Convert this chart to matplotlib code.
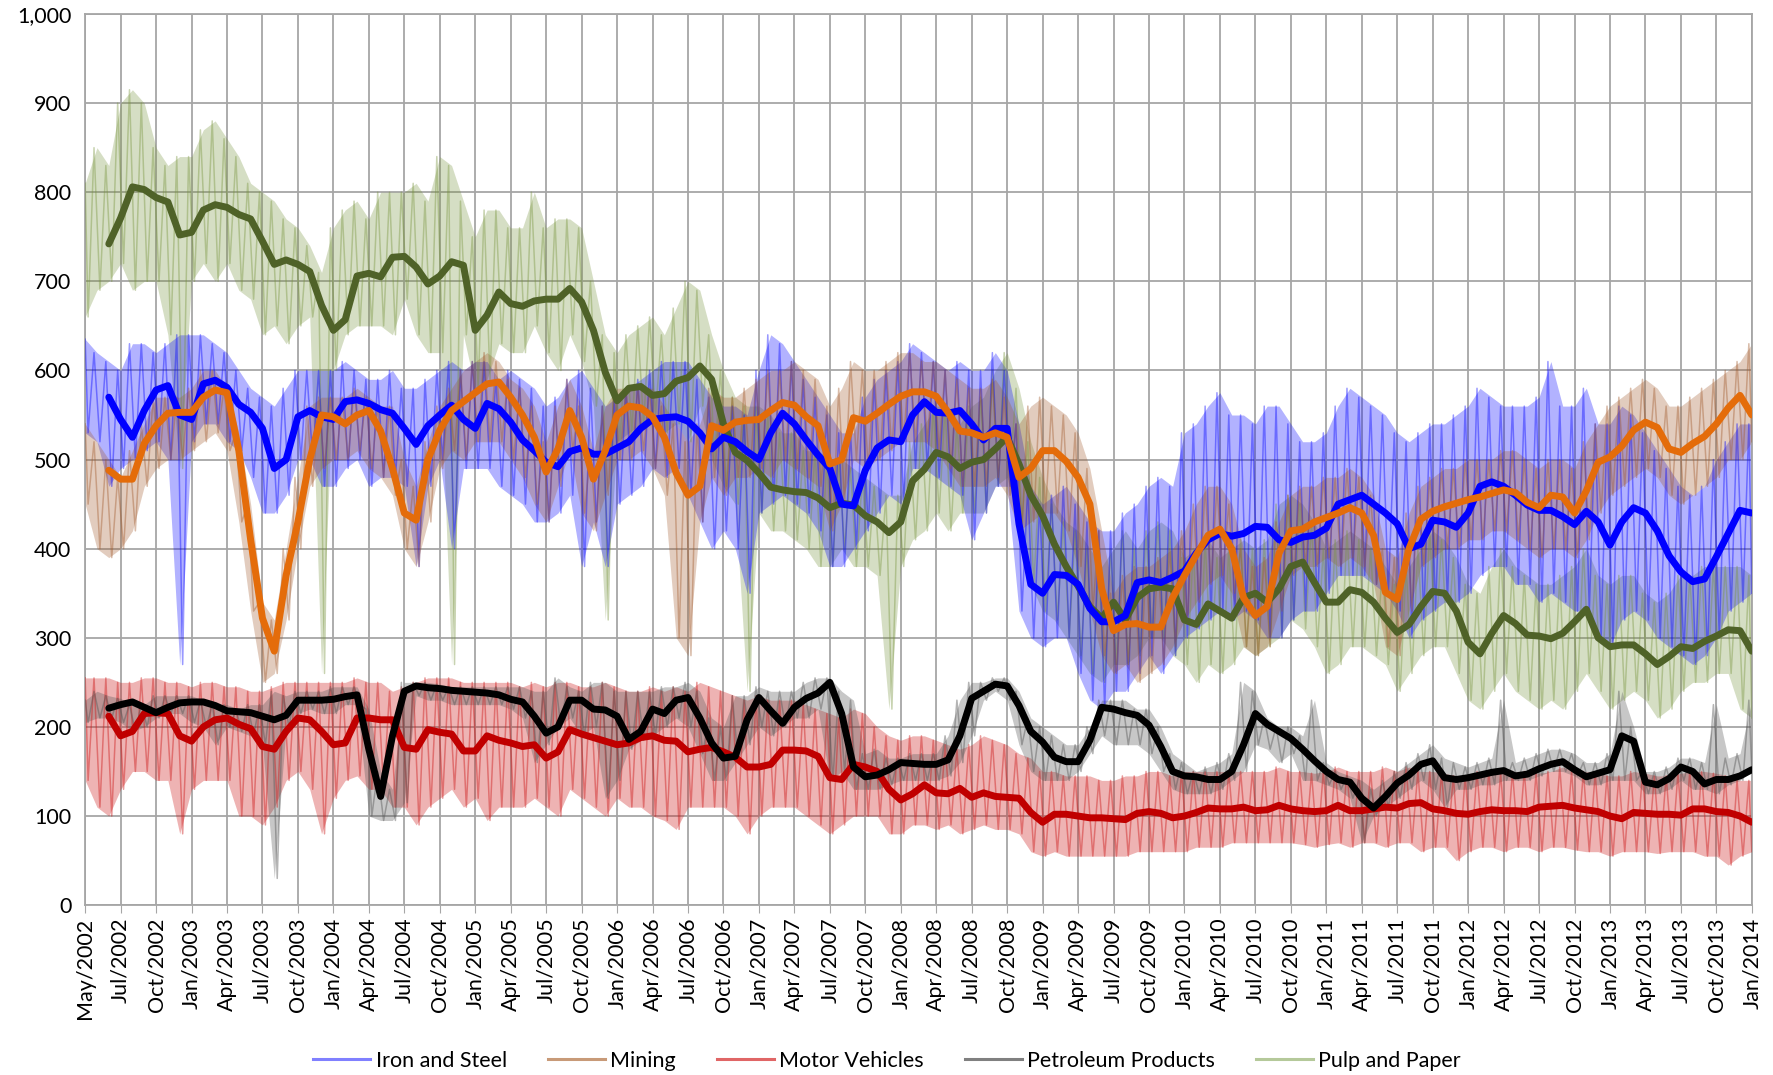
import numpy as np
import matplotlib
matplotlib.use("Agg")
import matplotlib.pyplot as plt
from matplotlib.lines import Line2D

nan = np.nan
# ---------------- data (monthly, month 0 = May/2002, month 141 = Jan/2014) ----------------
tick_labels = ["May/2002", "Jul/2002", "Oct/2002",
               "Jan/2003", "Apr/2003", "Jul/2003", "Oct/2003",
               "Jan/2004", "Apr/2004", "Jul/2004", "Oct/2004",
               "Jan/2005", "Apr/2005", "Jul/2005", "Oct/2005",
               "Jan/2006", "Apr/2006", "Jul/2006", "Oct/2006",
               "Jan/2007", "Apr/2007", "Jul/2007", "Oct/2007",
               "Jan/2008", "Apr/2008", "Jul/2008", "Oct/2008",
               "Jan/2009", "Apr/2009", "Jul/2009", "Oct/2009",
               "Jan/2010", "Apr/2010", "Jul/2010", "Oct/2010",
               "Jan/2011", "Apr/2011", "Jul/2011", "Oct/2011",
               "Jan/2012", "Apr/2012", "Jul/2012", "Oct/2012",
               "Jan/2013", "Apr/2013", "Jul/2013", "Oct/2013",
               "Jan/2014"]
series_names = ["Iron and Steel", "Mining", "Motor Vehicles", "Petroleum Products", "Pulp and Paper"]

# moving averages (thick lines)
iron_ma = [nan, nan, 570, 545, 525, 555, 578, 583, 550, 545, 585, 589, 581, 562, 553, 535, 490, 500, 548, 555, 548, 545, 565, 567, 563, 556,
           552, 535, 517, 538, 550, 561, 545, 535, 563, 557, 542, 522, 510, 497, 492, 509, 513, 506, 506, 513, 520, 535, 545, 547, 548,
           543, 530, 512, 525, 520, 509, 500, 530, 552, 540, 522, 505, 490, 450, 448, 488, 513, 522, 520, 550, 565, 553, 552, 555, 540,
           522, 535, 535, 428, 360, 350, 371, 370, 360, 333, 318, 318, 325, 362, 365, 362, 368, 375, 395, 410, 417, 414, 417, 425, 424,
           410, 407, 413, 415, 423, 450, 455, 460, 450, 440, 428, 400, 405, 432, 430, 424, 440, 470, 475, 470,
           460, 449, 443, 443, 436, 427, 442, 430, 404, 430, 446, 440, 420, 392, 374, 363, 366, 391, 417, 443, 440]
mining_ma = [nan, nan, 488, 478, 478, 518, 538, 552, 553, 553, 570, 578, 575, 510, 410, 322, 285, 370, 430, 500, 550, 548, 540, 550, 555, 532,
             490, 440, 432, 500, 533, 555, 565, 575, 585, 587, 570, 550, 525, 486, 512, 555, 525, 478, 510, 550, 560, 558, 548, 525, 485,
             460, 470, 538, 533, 542, 544, 545, 555, 564, 561, 548, 538, 495, 500, 547, 543, 552, 562, 571, 576, 576, 571, 553, 532, 530,
             525, 530, 525, 480, 490, 510, 510, 498, 480, 450, 355, 308, 315, 316, 312, 312, 345, 370, 393, 415, 422, 400, 345, 325, 335,
             395, 420, 422, 430, 435, 440, 446, 440, 415, 351, 343, 400, 433, 442, 447, 451, 455, 458, 462, 466,
             463, 452, 446, 460, 458, 440, 465, 497, 503, 515, 533, 542, 536, 512, 508, 518, 526, 540, 558, 572, 550]
motor_ma = [nan, nan, 212, 190, 195, 215, 216, 215, 190, 184, 200, 208, 210, 203, 198, 178, 175, 195, 210, 208, 195, 180, 182, 210, 210, 208,
            208, 177, 175, 197, 194, 192, 173, 173, 190, 185, 182, 178, 180, 165, 172, 197, 192, 188, 184, 180, 182, 188, 190, 185, 184,
            172, 175, 177, 172, 166, 155, 155, 158, 174, 174, 173, 167, 143, 141, 158, 155, 150, 130, 118, 125, 135, 126, 125, 131, 121,
            126, 122, 121, 120, 104, 93, 102, 102, 100, 98, 98, 97, 96, 103, 105, 103, 98, 100, 104, 109, 108, 108, 110, 106, 107,
            112, 108, 106, 105, 106, 112, 106, 106, 108, 110, 109, 114, 115, 108, 106, 103, 102, 105, 107, 106,
            106, 105, 110, 111, 112, 109, 107, 105, 100, 97, 104, 103, 102, 102, 101, 108, 108, 105, 104, 100, 93]
petro_ma = [nan, nan, 221, 225, 228, 222, 216, 222, 227, 228, 228, 224, 218, 217, 216, 212, 208, 213, 230, 230, 230, 231, 234, 236, 175, 122,
            190, 240, 246, 244, 243, 241, 240, 239, 238, 236, 231, 228, 212, 193, 200, 230, 230, 220, 219, 212, 186, 195, 220, 215, 230,
            233, 210, 182, 165, 167, 208, 233, 218, 204, 222, 232, 238, 250, 215, 155, 144, 146, 152, 160, 159, 158, 158, 163, 190, 232,
            240, 248, 246, 224, 195, 183, 166, 161, 161, 185, 222, 220, 216, 213, 202, 178, 150, 145, 144, 141, 141, 150, 180, 215, 203,
            195, 187, 175, 162, 150, 141, 138, 120, 109, 122, 137, 146, 158, 162, 143, 141, 143, 146, 149, 151,
            145, 147, 153, 158, 161, 152, 144, 148, 152, 190, 184, 138, 135, 142, 155, 150, 136, 141, 141, 145, 152]
pulp_ma = [nan, nan, 742, 771, 806, 803, 794, 789, 752, 755, 780, 786, 783, 775, 770, 745, 719, 724, 719, 711, 673, 645, 657, 706, 709, 705,
           727, 728, 716, 697, 706, 722, 718, 645, 662, 688, 675, 672, 678, 680, 680, 692, 677, 645, 598, 566, 580, 582, 572, 574, 588,
           592, 605, 590, 540, 508, 499, 485, 469, 466, 464, 463, 457, 446, 451, 449, 437, 430, 418, 430, 476, 489, 508, 503, 490, 497,
           500, 512, 525, 495, 460, 437, 405, 380, 358, 335, 322, 340, 320, 345, 355, 357, 355, 320, 315, 338, 330, 322, 345, 350, 340,
           355, 380, 385, 362, 340, 340, 354, 351, 340, 322, 306, 315, 335, 352, 350, 330, 295, 282, 305, 325,
           316, 303, 302, 299, 305, 318, 332, 300, 290, 292, 292, 282, 270, 279, 290, 288, 296, 302, 309, 308, 285]

# raw daily series, read as monthly highs and lows
iron_hi = [635, 620, 610, 600, 630, 630, 620, 630, 640, 640, 640, 630, 620, 600, 580, 570, 560, 580, 600, 600, 600, 600, 610, 600, 590, 590,
           600, 580, 580, 590, 600, 610, 600, 610, 610, 590, 600, 590, 580, 560, 570, 590, 600, 580, 560, 570, 580, 590, 600, 610, 610,
           610, 590, 570, 560, 560, 550, 600, 640, 630, 610, 590, 570, 550, 530, 530, 570, 590, 600, 610, 630, 620, 610, 600, 610, 600,
           600, 620, 600, 540, 470, 450, 460, 470, 450, 430, 420, 420, 440, 450, 470, 480, 470, 530, 540, 560, 575, 550, 550, 540, 560,
           560, 540, 520, 520, 530, 560, 580, 570, 560, 550, 530, 520, 530, 540, 540, 550, 560, 580, 570, 560,
           560, 560, 570, 610, 560, 560, 580, 540, 540, 560, 550, 530, 510, 490, 470, 460, 470, 500, 520, 540, 540]
iron_lo = [530, 520, 470, 490, 500, 510, 520, 500, 270, 520, 540, 540, 520, 510, 480, 440, 440, 460, 500, 500, 470, 470, 490, 500, 470, 480,
           480, 470, 380, 470, 500, 400, 490, 490, 490, 470, 460, 450, 430, 430, 440, 460, 380, 430, 380, 450, 460, 470, 490, 480, 490,
           460, 430, 400, 420, 400, 350, 440, 450, 460, 450, 440, 420, 380, 380, 400, 420, 440, 460, 450, 490, 490, 480, 470, 460, 410,
           440, 470, 470, 330, 300, 290, 300, 300, 260, 230, 220, 240, 240, 260, 280, 260, 280, 300, 310, 320, 330, 320, 330, 320, 300,
           300, 320, 330, 330, 350, 370, 370, 370, 360, 350, 330, 300, 320, 330, 340, 340, 350, 370, 380, 380,
           360, 360, 340, 350, 340, 330, 330, 300, 290, 320, 330, 320, 300, 290, 280, 270, 280, 300, 330, 340, 350]
mining_hi = [540, 520, 500, 480, 510, 540, 570, 570, 570, 580, 600, 600, 580, 530, 450, 340, 320, 400, 480, 560, 570, 570, 570, 580, 570, 560,
             560, 500, 470, 520, 560, 580, 600, 610, 620, 610, 590, 580, 560, 520, 560, 590, 560, 510, 560, 580, 580, 580, 580, 560, 540,
             520, 540, 580, 570, 570, 580, 590, 600, 600, 610, 600, 590, 560, 580, 610, 600, 600, 610, 620, 620, 610, 610, 600, 590, 580,
             580, 590, 570, 540, 560, 570, 560, 550, 530, 490, 420, 350, 370, 380, 380, 390, 400, 420, 450, 470, 470, 450, 400, 380, 390,
             430, 460, 470, 470, 480, 480, 490, 480, 460, 400, 390, 440, 470, 480, 490, 490, 500, 500, 500, 510,
             510, 500, 490, 500, 500, 490, 520, 540, 560, 570, 580, 590, 580, 560, 560, 570, 580, 590, 600, 610, 630]
mining_lo = [450, 400, 390, 400, 420, 470, 490, 500, 500, 510, 520, 530, 510, 430, 330, 250, 260, 320, 400, 470, 490, 500, 500, 510, 490, 480,
             460, 400, 380, 430, 490, 510, 500, 520, 520, 520, 500, 480, 450, 430, 470, 510, 440, 420, 460, 500, 500, 510, 490, 460, 300,
             280, 430, 480, 460, 480, 480, 490, 480, 500, 490, 480, 470, 420, 450, 500, 490, 500, 510, 520, 520, 520, 510, 490, 470, 470,
             470, 480, 460, 420, 430, 440, 440, 420, 380, 330, 280, 260, 270, 250, 260, 270, 290, 320, 340, 360, 370, 350, 290, 280, 290,
             330, 370, 380, 380, 390, 380, 390, 380, 360, 290, 280, 330, 380, 390, 400, 400, 410, 410, 420, 420,
             410, 400, 390, 400, 400, 390, 410, 440, 460, 470, 480, 490, 480, 460, 450, 460, 470, 480, 500, 500, 520]
motor_hi = [255, 255, 255, 250, 250, 255, 255, 250, 250, 245, 250, 250, 245, 245, 240, 240, 245, 250, 250, 250, 250, 250, 250, 255, 250, 250,
            240, 245, 250, 255, 255, 255, 250, 250, 250, 250, 250, 245, 250, 245, 250, 250, 245, 245, 250, 245, 240, 240, 245, 240, 245,
            240, 250, 245, 240, 235, 230, 235, 230, 230, 230, 225, 220, 215, 210, 220, 215, 200, 190, 185, 190, 190, 185, 180, 175, 180,
            190, 185, 180, 170, 165, 150, 150, 145, 145, 145, 140, 140, 145, 145, 150, 150, 145, 150, 150, 150, 150, 150, 150, 150, 150,
            155, 150, 150, 148, 150, 155, 150, 150, 150, 155, 150, 155, 150, 150, 148, 145, 145, 150, 150, 148,
            150, 150, 148, 150, 155, 150, 150, 148, 145, 145, 150, 148, 145, 145, 148, 150, 150, 148, 145, 140, 140]
motor_lo = [140, 110, 100, 130, 150, 150, 140, 140, 80, 130, 140, 140, 140, 100, 100, 90, 110, 140, 150, 130, 80, 120, 140, 145, 130, 130,
            110, 110, 90, 110, 120, 130, 110, 120, 95, 110, 110, 110, 120, 110, 100, 130, 120, 110, 100, 120, 110, 110, 100, 95, 85,
            110, 110, 110, 110, 100, 80, 100, 110, 110, 110, 100, 90, 80, 90, 100, 100, 100, 80, 80, 90, 90, 85, 90, 80, 85,
            90, 85, 85, 80, 60, 55, 60, 55, 55, 55, 55, 55, 55, 60, 60, 60, 60, 60, 65, 65, 65, 70, 70, 70, 70,
            70, 70, 68, 65, 68, 70, 65, 70, 70, 65, 70, 70, 60, 65, 65, 50, 60, 65, 65, 60,
            65, 65, 60, 65, 65, 62, 60, 60, 55, 60, 60, 60, 58, 60, 60, 60, 55, 55, 45, 55, 60]
petro_hi = [230, 240, 235, 232, 225, 225, 235, 235, 235, 235, 230, 225, 225, 220, 225, 225, 240, 235, 240, 240, 240, 245, 245, 245, 220, 150,
            130, 250, 250, 250, 248, 245, 245, 245, 245, 245, 245, 245, 240, 240, 255, 245, 240, 250, 250, 240, 240, 240, 240, 245, 245,
            250, 240, 210, 200, 235, 235, 245, 240, 240, 240, 250, 255, 255, 240, 230, 170, 175, 165, 165, 170, 170, 170, 190, 230, 250,
            250, 255, 255, 240, 210, 200, 190, 180, 180, 200, 230, 230, 230, 220, 220, 200, 170, 160, 150, 155, 160, 170, 250, 240, 210,
            200, 200, 190, 230, 160, 150, 145, 140, 130, 140, 150, 160, 170, 180, 165, 160, 155, 160, 165, 230,
            160, 165, 170, 175, 175, 170, 160, 160, 170, 240, 200, 150, 150, 155, 165, 165, 160, 225, 165, 170, 230]
petro_lo = [205, 210, 210, 205, 195, 200, 210, 215, 215, 205, 200, 180, 200, 195, 190, 180, 30, 200, 215, 220, 215, 215, 225, 225, 100, 95,
            95, 115, 235, 230, 230, 225, 225, 225, 225, 225, 220, 210, 160, 180, 200, 210, 190, 200, 120, 140, 175, 185, 190, 200, 210,
            200, 170, 140, 140, 160, 180, 200, 190, 200, 210, 210, 220, 140, 150, 130, 130, 130, 135, 140, 140, 140, 140, 145, 160, 190,
            230, 240, 230, 180, 150, 140, 140, 140, 150, 170, 190, 180, 180, 180, 170, 150, 130, 125, 125, 125, 130, 140, 150, 180, 175,
            160, 170, 140, 140, 135, 130, 120, 70, 100, 110, 120, 130, 140, 130, 110, 130, 130, 135, 135, 140,
            140, 140, 145, 150, 150, 145, 135, 135, 140, 140, 140, 125, 125, 130, 140, 130, 130, 125, 135, 140, 150]
pulp_hi = [810, 850, 830, 900, 915, 900, 850, 830, 840, 840, 870, 880, 860, 840, 810, 800, 790, 770, 760, 740, 710, 760, 780, 790, 770, 800,
           800, 800, 810, 790, 840, 830, 790, 750, 780, 780, 760, 760, 800, 760, 770, 770, 760, 700, 640, 620, 640, 650, 660, 640, 670,
           700, 690, 640, 600, 570, 560, 560, 550, 530, 530, 510, 510, 500, 500, 490, 480, 470, 460, 460, 520, 540, 560, 560, 540, 560,
           570, 600, 620, 580, 520, 480, 450, 430, 420, 400, 380, 400, 420, 400, 420, 430, 420, 390, 400, 410, 390, 400, 410, 400, 410,
           450, 460, 450, 430, 400, 410, 420, 410, 400, 380, 360, 380, 400, 420, 410, 390, 360, 350, 380, 400,
           380, 370, 360, 360, 370, 380, 400, 370, 360, 370, 370, 350, 340, 350, 370, 370, 380, 380, 380, 380, 370]
pulp_lo = [660, 690, 700, 720, 690, 700, 700, 640, 490, 700, 720, 700, 720, 690, 680, 640, 650, 630, 650, 660, 260, 600, 640, 650, 650, 650,
           640, 680, 640, 620, 620, 270, 640, 580, 590, 630, 620, 620, 650, 620, 600, 640, 610, 560, 320, 520, 530, 540, 550, 530, 540,
           520, 560, 500, 470, 450, 240, 440, 420, 420, 410, 400, 380, 380, 400, 380, 380, 370, 220, 380, 410, 420, 440, 420, 440, 440,
           440, 470, 480, 430, 360, 330, 320, 300, 280, 260, 250, 270, 270, 280, 300, 300, 280, 270, 250, 270, 260, 270, 290, 280, 290,
           300, 320, 310, 290, 260, 270, 290, 290, 280, 270, 240, 260, 280, 290, 290, 260, 230, 220, 240, 260,
           240, 230, 220, 230, 220, 240, 260, 240, 220, 230, 240, 230, 210, 220, 240, 250, 250, 260, 260, 220, 210]

# ---------------- plotting ----------------
plt.rcParams['font.family'] = ['Lato', 'DejaVu Sans']

months = np.arange(len(iron_ma))
for arr in [iron_ma, mining_ma, motor_ma, petro_ma, pulp_ma, iron_hi, iron_lo, mining_hi, mining_lo,
            motor_hi, motor_lo, petro_hi, petro_lo, pulp_hi, pulp_lo]:
    assert len(arr) == len(months), len(arr)

fig = plt.figure(figsize=(17.74, 10.75), dpi=100)
ax = fig.add_axes([0.048, 0.158, 0.9395, 0.829])

raw_cols = {"iron": "#0000ff", "mining": "#a0582a", "motor": "#cc1a1a", "petro": "#555555", "pulp": "#77933c"}
leg_cols = ["#8080ff", "#c89a78", "#e06666", "#808080", "#b5c99a"]


def zigzag(hi, lo):
    n = len(hi)
    xs = np.empty(2 * n)
    ys = np.empty(2 * n)
    xs[0::2] = months - 0.25
    xs[1::2] = months + 0.25
    ys[0::2] = hi
    ys[1::2] = lo
    xs = np.clip(xs, 0, months[-1])
    return xs, ys


raw = [("pulp", pulp_hi, pulp_lo, 0.5), ("iron", iron_hi, iron_lo, 0.5), ("mining", mining_hi, mining_lo, 0.5),
       ("motor", motor_hi, motor_lo, 0.55), ("petro", petro_hi, petro_lo, 0.55)]
for key, hi, lo, a in raw:
    xs, ys = zigzag(np.array(hi, float), np.array(lo, float))
    ax.fill_between(months, lo, hi, color=raw_cols[key], alpha=a * 0.6, lw=0, zorder=2)
    ax.plot(xs, ys, color=raw_cols[key], alpha=a * 0.8, lw=1.1, zorder=3)

lw_ma = 5.0
ax.plot(months, motor_ma, color="#c00000", lw=lw_ma, zorder=5, solid_capstyle='round')
ax.plot(months, petro_ma, color="#000000", lw=lw_ma, zorder=6, solid_capstyle='round')
ax.plot(months, pulp_ma, color="#4f6228", lw=lw_ma, zorder=5, solid_capstyle='round')
ax.plot(months, iron_ma, color="#0000ff", lw=lw_ma, zorder=5, solid_capstyle='round')
ax.plot(months, mining_ma, color="#e46c0a", lw=lw_ma, zorder=6, solid_capstyle='round')

ax.set_xlim(0, months[-1])
ax.set_ylim(0, 1000)
ax.set_xticks(np.arange(0, len(tick_labels) * 3, 3))
ax.set_xticklabels(tick_labels, rotation=90, fontsize=15.5, color="#000000")
ax.set_yticks(np.arange(0, 1001, 100))
ax.set_yticklabels([f"{v:,}" for v in range(0, 1001, 100)], fontsize=15.5)
ax.grid(True, color="#a6a6a6", lw=1.3, zorder=0)
ax.set_axisbelow(True)
for s in ax.spines.values():
    s.set_color("#a6a6a6")
    s.set_linewidth(1.3)
ax.tick_params(axis='x', length=6, color="#a6a6a6", pad=3)
ax.tick_params(axis='y', length=0, pad=10)

handles = [Line2D([0], [0], color=c, lw=2.2) for c in leg_cols]
fig.legend(handles, series_names, loc='lower center', bbox_to_anchor=(0.5, -0.014), ncol=5, frameon=False,
           fontsize=15.5, handlelength=2.65, columnspacing=1.9, handletextpad=0.25)

fig.savefig("out.png", dpi=100)
